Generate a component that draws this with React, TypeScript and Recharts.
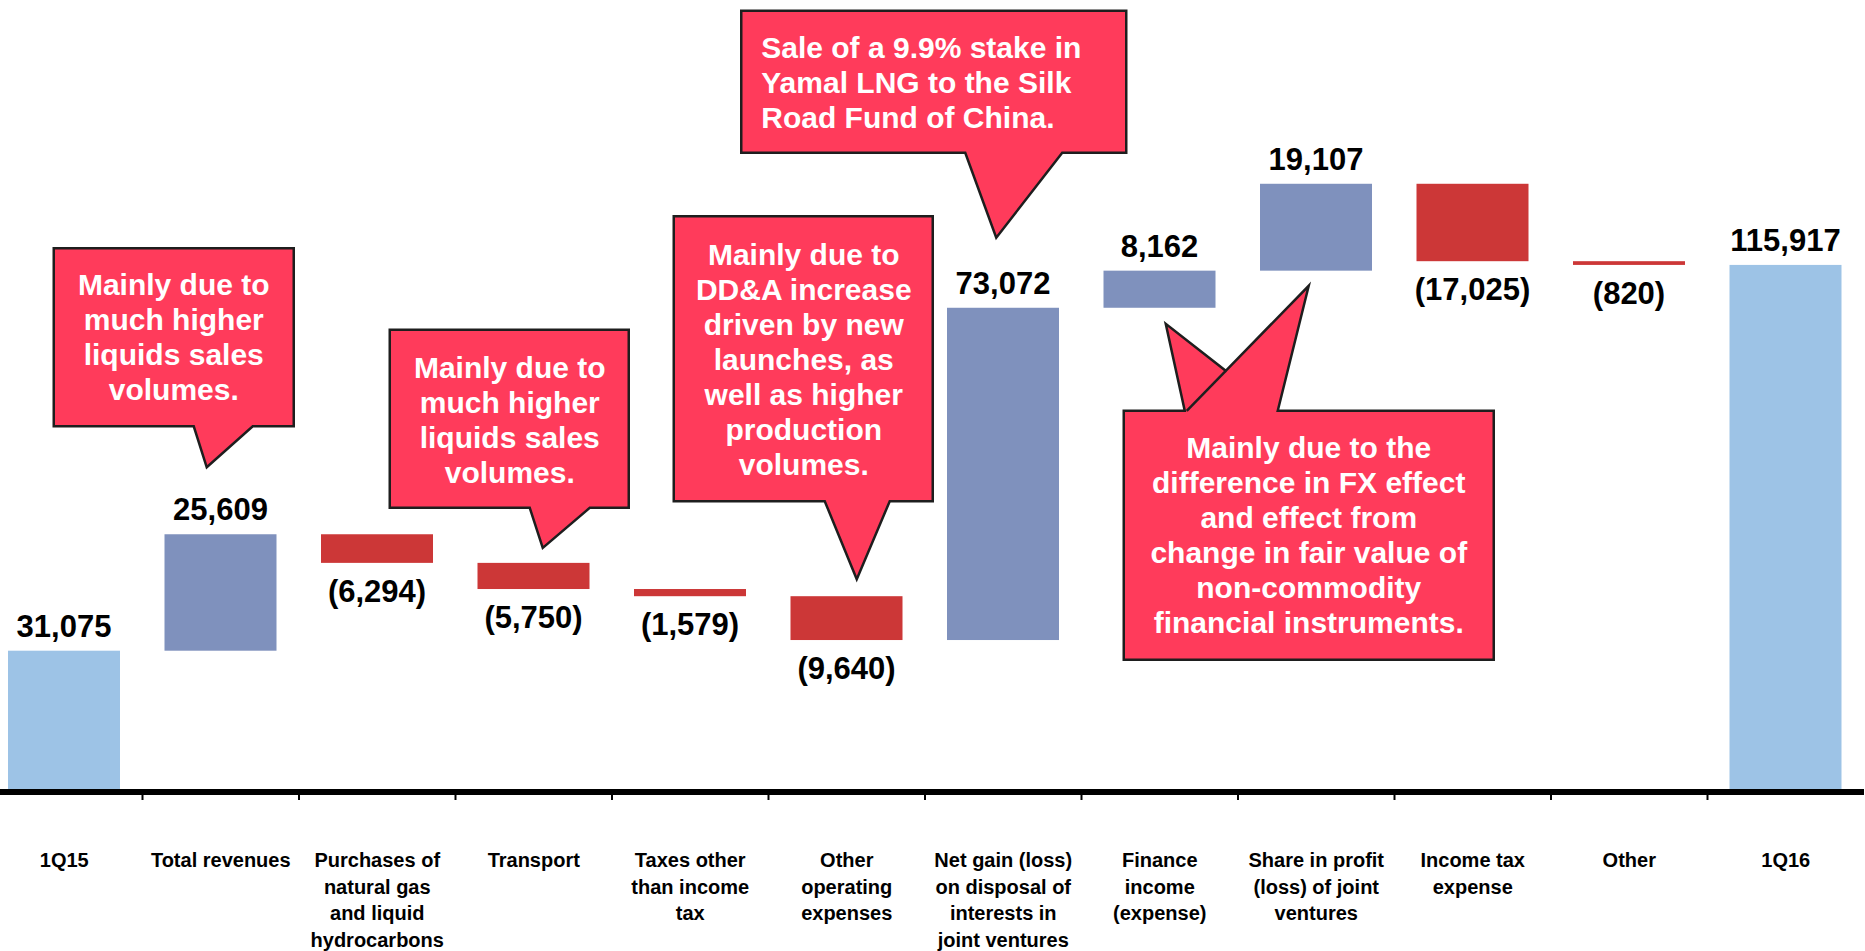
import React from "react";
import { BarChart, Bar, XAxis, YAxis, ReferenceDot } from "recharts";

const FONT = '"Liberation Sans", Arial, sans-serif';

const categories = [
  "1Q15",
  "Total revenues",
  "Purchases of natural gas and liquid hydrocarbons",
  "Transport",
  "Taxes other than income tax",
  "Other operating expenses",
  "Net gain (loss) on disposal of interests in joint ventures",
  "Finance income (expense)",
  "Share in profit (loss) of joint ventures",
  "Income tax expense",
  "Other",
  "1Q16",
];

// how each category label wraps under the axis
const tickLines = [
  ["1Q15"],
  ["Total revenues"],
  ["Purchases of", "natural gas", "and liquid", "hydrocarbons"],
  ["Transport"],
  ["Taxes other", "than income", "tax"],
  ["Other", "operating", "expenses"],
  ["Net gain (loss)", "on disposal of", "interests in", "joint ventures"],
  ["Finance", "income", "(expense)"],
  ["Share in profit", "(loss) of joint", "ventures"],
  ["Income tax", "expense"],
  ["Other"],
  ["1Q16"],
];

const values = [31075, 25609, -6294, -5750, -1579, -9640, 73072, 8162, 19107, -17025, -820, 115917];
const isTotal = [true, false, false, false, false, false, false, false, false, false, false, true];

const COLORS = { total: "#9DC3E6", up: "#7F91BD", down: "#CC3737", callout: "#FF3B5B" };

// layout
const CHART_W = 1878;
const CHART_H = 951;
const AXIS_H = 159;
const AXIS_Y = CHART_H - AXIS_H;
const BAND = CHART_W / categories.length;

let running = 0;
const data = categories.map((name, i) => {
  const v = values[i];
  let low = 0;
  let high = v;
  if (isTotal[i]) {
    running = v;
  } else {
    const next = running + v;
    low = Math.min(running, next);
    high = Math.max(running, next);
    running = next;
  }
  return { name, range: [low, high], value: v, total: isTotal[i] };
});

const fmt = (v: number) => {
  const s = Math.abs(v).toLocaleString("en-US");
  return v < 0 ? `(${s})` : s;
};

// callout boxes, drawn relative to the tip of their pointer
const callouts = [
  {
    cat: "Total revenues", edge: "top", dx: -14, dy: -67,
    box: [-153, -219, 87, -41], base: [-13, 46],
    lines: ["Mainly due to", "much higher", "liquids sales", "volumes."],
    tx: -33, ty: -172, anchor: "middle",
  },
  {
    cat: "Transport", edge: "top", dx: 9, dy: -15,
    box: [-153, -218, 86, -40], base: [-13, 47],
    lines: ["Mainly due to", "much higher", "liquids sales", "volumes."],
    tx: -33, ty: -170, anchor: "middle",
  },
  {
    cat: "Other operating expenses", edge: "top", dx: 10, dy: -17,
    box: [-183, -363, 76, -78], base: [-32, 33],
    lines: ["Mainly due to", "DD&A increase", "driven by new", "launches, as", "well as higher", "production", "volumes."],
    tx: -53, ty: -314, anchor: "middle",
  },
  {
    cat: "Net gain (loss) on disposal of interests in joint ventures", edge: "top", dx: -7, dy: -70,
    box: [-255, -227, 130, -85], base: [-31, 66],
    lines: ["Sale of a 9.9% stake in", "Yamal LNG to the Silk", "Road Fund of China."],
    tx: -235, ty: -180, anchor: "start",
  },
];

const fxCallout = {
  cat: "Finance income (expense)", dx: 6, dy: 16,
  lines: ["Mainly due to the", "difference in FX effect", "and effect from", "change in fair value of", "non-commodity", "financial instruments."],
};

const CalloutText = ({ x, y, lines, anchor }: any) => (
  <text x={x} y={y} fill="#fff" fontSize={30} fontWeight="bold" fontFamily={FONT} textAnchor={anchor}>
    {lines.map((l: string, i: number) => (
      <tspan key={i} x={x} dy={i === 0 ? 0 : 35}>
        {l}
      </tspan>
    ))}
  </text>
);

const SimpleCallout = (props: any) => {
  const { cx, cy, c } = props;
  if (cx == null || cy == null) return null;
  const tx = cx + c.dx;
  const ty = cy + c.dy;
  const [x0, y0, x1, y1] = c.box;
  const [b0, b1] = c.base;
  const d = `M${tx + x0},${ty + y0} H${tx + x1} V${ty + y1} H${tx + b1} L${tx},${ty} L${tx + b0},${ty + y1} H${tx + x0} Z`;
  return (
    <g>
      <path d={d} fill={COLORS.callout} stroke="#1e1e1e" strokeWidth={2.5} strokeLinejoin="miter" />
      <CalloutText x={tx + c.tx} y={ty + c.ty} lines={c.lines} anchor={c.anchor} />
    </g>
  );
};

// two pointers: one to Finance income, one to Share in profit
const FxCallout = (props: any) => {
  const { cx, cy } = props;
  if (cx == null || cy == null) return null;
  const tx = cx + fxCallout.dx;
  const ty = cy + fxCallout.dy;
  const p = (x: number, y: number) => `${tx + x},${ty + y}`;
  const d = `M${p(-42, 87)} L${p(19, 87)} L${p(0, 0)} L${p(60, 47)} L${p(143, -38)} L${p(112, 87)} L${p(328, 87)} L${p(328, 336)} L${p(-42, 336)} Z`;
  return (
    <g>
      <path d={d} fill={COLORS.callout} stroke="#1e1e1e" strokeWidth={2.5} />
      <path d={`M${p(21, 87)} L${p(60, 47)}`} stroke="#1e1e1e" strokeWidth={2.5} fill="none" />
      <CalloutText x={tx + 143} y={ty + 134} lines={fxCallout.lines} anchor="middle" />
    </g>
  );
};

const renderBar = (props: any) => {
  const { x, y, width, height, payload } = props;
  const top = Math.min(y, y + height);
  const h = Math.abs(height);
  const v = payload.value;
  const fill = payload.total ? COLORS.total : v >= 0 ? COLORS.up : COLORS.down;
  const labelY = v >= 0 ? top - 14 : top + h + 39;
  return (
    <g>
      <rect x={x} y={top} width={width} height={h} fill={fill} />
      <text x={x + width / 2} y={labelY} textAnchor="middle" fontSize={31} fontWeight="bold" fontFamily={FONT} fill="#000">
        {fmt(v)}
      </text>
    </g>
  );
};

const CategoryTick = (props: any) => {
  const { x, payload } = props;
  const idx = categories.indexOf(payload?.value);
  const lines = tickLines[idx] ?? [String(payload?.value)];
  return (
    <g>
      {idx < categories.length - 1 && (
        <line x1={x + BAND / 2} x2={x + BAND / 2} y1={AXIS_Y} y2={AXIS_Y + 8} stroke="#000" strokeWidth={2} />
      )}
      <text x={x} y={AXIS_Y + 75} textAnchor="middle" fontSize={20} fontWeight="bold" fontFamily={FONT} fill="#000">
        {lines.map((l, i) => (
          <tspan key={i} x={x} dy={i === 0 ? 0 : 26.7}>
            {l}
          </tspan>
        ))}
      </text>
    </g>
  );
};

const anchorValue = (cat: string, edge: string) => {
  const row = data.find((d) => d.name === cat)!;
  return edge === "top" ? row.range[1] : row.range[0];
};

const App = () => {
  return (
    <div style={{ position: "absolute", left: -14, top: 0, background: "#fff" }}>
      <BarChart width={CHART_W} height={CHART_H} data={data} margin={{ top: 19, right: 0, bottom: 0, left: 0 }}>
        <YAxis hide domain={[0, 170000]} />
        <Bar dataKey="range" barSize={112} isAnimationActive={false} shape={renderBar} />
        <XAxis
          dataKey="name"
          interval={0}
          height={AXIS_H}
          tickLine={false}
          axisLine={{ stroke: "#000", strokeWidth: 6 }}
          tick={(p: any) => <CategoryTick {...p} />}
        />
        {callouts.map((c) => (
          <ReferenceDot
            key={c.cat}
            x={c.cat}
            y={anchorValue(c.cat, c.edge)}
            r={0}
            ifOverflow="visible"
            shape={(p: any) => <SimpleCallout {...p} c={c} />}
          />
        ))}
        <ReferenceDot
          x={fxCallout.cat}
          y={anchorValue(fxCallout.cat, "bottom")}
          r={0}
          ifOverflow="visible"
          shape={(p: any) => <FxCallout {...p} />}
        />
      </BarChart>
    </div>
  );
};

export default App;
